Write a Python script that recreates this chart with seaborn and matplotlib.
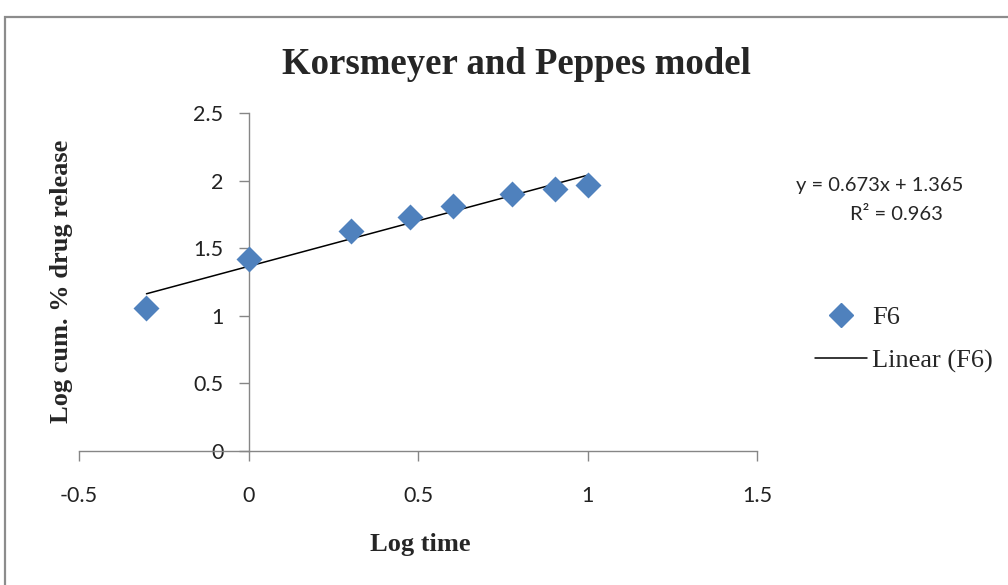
import matplotlib
matplotlib.use("Agg")
import matplotlib.pyplot as plt
import seaborn as sns
import pandas as pd
from matplotlib.patches import Rectangle
from matplotlib.lines import Line2D

# ---- data ----
log_time = [-0.301, 0.0, 0.301, 0.477, 0.602, 0.778, 0.903, 1.0]
log_release = [1.06, 1.42, 1.63, 1.73, 1.81, 1.90, 1.94, 1.97]
x_ticks = [-0.5, 0, 0.5, 1, 1.5]
x_tick_labels = ["-0.5", "0", "0.5", "1", "1.5"]
y_ticks = [0, 0.5, 1, 1.5, 2, 2.5]
y_tick_labels = ["0", "0.5", "1", "1.5", "2", "2.5"]
series_name = "F6"
equation_text = "y = 0.673x + 1.365"
r2_text = "R\u00b2 = 0.963"

sns.set_style("white")
plt.rcParams['font.family'] = ['Lato', 'DejaVu Sans']

df = pd.DataFrame({"x": log_time, "y": log_release})

fig = plt.figure(figsize=(10.08, 5.85), dpi=100)
ax = fig.add_axes([79/1008, 1-451/585, 678/1008, 338/585])

blue = "#4F81BD"
axis_gray = "#868686"

sns.regplot(data=df, x="x", y="y", ax=ax, ci=None, truncate=True, scatter=False,
            line_kws=dict(color="black", lw=1.1))
sns.scatterplot(data=df, x="x", y="y", ax=ax, marker="D", s=175, color=blue,
                edgecolor=blue, linewidth=0, zorder=5, legend=False)

ax.set_xlim(-0.5, 1.5)
ax.set_ylim(0, 2.5)
ax.set_xticks(x_ticks)
ax.set_xticklabels(x_tick_labels)
ax.set_yticks(y_ticks)
ax.set_yticklabels(y_tick_labels)

for s in ["top", "right"]:
    ax.spines[s].set_visible(False)
ax.spines["left"].set_position(("data", 0))
ax.spines["left"].set_color(axis_gray)
ax.spines["bottom"].set_color(axis_gray)
ax.spines["left"].set_linewidth(1.0)
ax.spines["bottom"].set_linewidth(1.0)
ax.tick_params(axis="x", direction="out", length=7, width=1, color=axis_gray,
               labelsize=15.5, pad=18, bottom=True, labelcolor="#222222")
ax.tick_params(axis="y", direction="out", length=7, width=1, color=axis_gray,
               labelsize=15.5, pad=11, left=True, labelcolor="#222222")
ax.set_xlabel("")
ax.set_ylabel("")
ax.patch.set_alpha(0)

# title and axis titles
fig.text(516/1008, 1-64/585, "Korsmeyer and Peppes model", ha="center", va="center",
         family="Liberation Serif", fontweight="bold", fontsize=26.5)
fig.text(62/1008, 1-281/585, "Log cum. % drug release", ha="center", va="center",
         rotation=90, family="Liberation Serif", fontweight="bold", fontsize=19)
fig.text(420/1008, 1-545/585, "Log time", ha="center", va="center",
         family="Liberation Serif", fontweight="bold", fontsize=19)

# trendline equation
fig.text(880/1008, 1-186/585, equation_text, ha="center", va="center", fontsize=14.5)
fig.text(896/1008, 1-214/585, r2_text, ha="center", va="center", fontsize=14.5)

# legend
handles = [Line2D([], [], marker="D", color=blue, linestyle="none", markersize=12),
           Line2D([], [], color="black", lw=1.1)]
leg = fig.legend(handles, [series_name, "Linear (F6)"], loc="center left",
                 bbox_to_anchor=(815/1008, 1-339/585), frameon=False,
                 prop=dict(family="Liberation Serif", size=19),
                 handlelength=1.97, handletextpad=0.2, labelspacing=0.75,
                 borderpad=0, borderaxespad=0)

# outer chart frame
fig.patches.append(Rectangle((5/1008, -0.05), 1.2, 1-17/585+0.05, transform=fig.transFigure,
                             fill=False, edgecolor="#8c8c8c", lw=1.6))

fig.savefig("out.png", dpi=100)
